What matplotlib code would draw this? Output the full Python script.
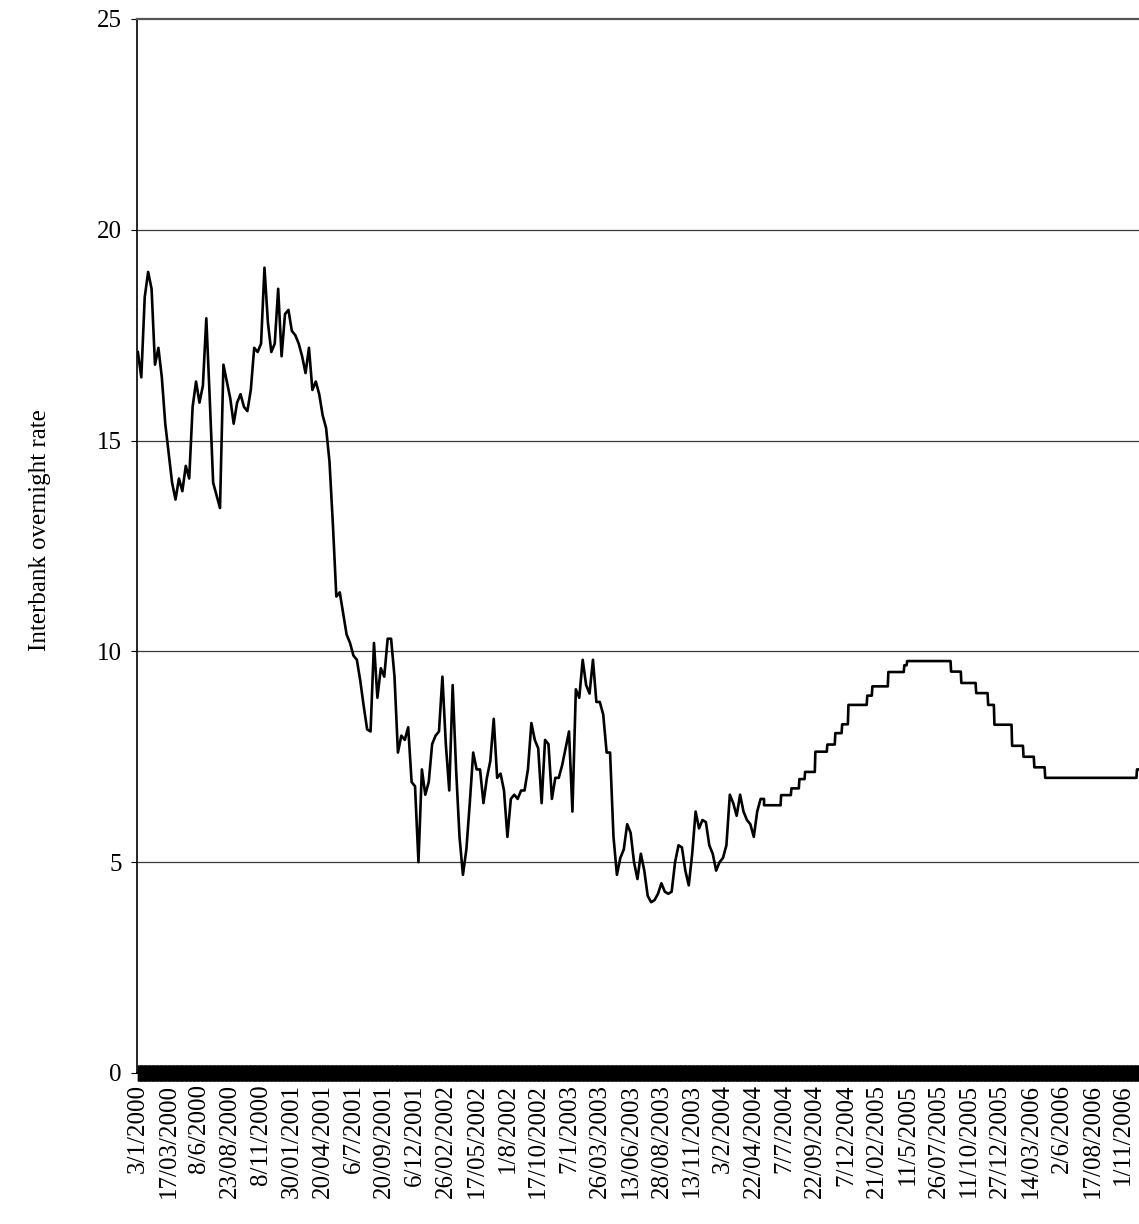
import numpy as np
import matplotlib
matplotlib.use("Agg")
from matplotlib import pyplot as plt

# interbank overnight rate, read every 6 trading days from 3/1/2000
rate_2000_2004 = [17.1, 16.5, 18.4, 19.0, 18.6, 16.8, 17.2, 16.5, 15.4, 14.7,
                  14.0, 13.6, 14.1, 13.8, 14.4, 14.1, 15.8, 16.4, 15.9, 16.3,
                  17.9, 16.0, 14.0, 13.7, 13.4, 16.8, 16.4, 16.0, 15.4, 15.9,
                  16.1, 15.8, 15.7, 16.2, 17.2, 17.1, 17.3, 19.1, 17.8, 17.1,
                  17.3, 18.6, 17.0, 18.0, 18.1, 17.6, 17.5, 17.3, 17.0, 16.6,
                  17.2, 16.2, 16.4, 16.1, 15.6, 15.3, 14.5, 13.0, 11.3, 11.4,
                  10.9, 10.4, 10.2, 9.9, 9.8, 9.3, 8.7, 8.15, 8.1, 10.2,
                  8.9, 9.6, 9.4, 10.3, 10.3, 9.4, 7.6, 8.0, 7.9, 8.2,
                  6.9, 6.8, 5.0, 7.2, 6.6, 6.9, 7.8, 8.0, 8.1, 9.4,
                  7.8, 6.7, 9.2, 7.2, 5.6, 4.7, 5.3, 6.4, 7.6, 7.2,
                  7.2, 6.4, 7.0, 7.4, 8.4, 7.0, 7.1, 6.7, 5.6, 6.5,
                  6.6, 6.5, 6.7, 6.7, 7.2, 8.3, 7.9, 7.7, 6.4, 7.9,
                  7.8, 6.5, 7.0, 7.0, 7.3, 7.7, 8.1, 6.2, 9.1, 8.9,
                  9.8, 9.2, 9.0, 9.8, 8.8, 8.8, 8.5, 7.6, 7.6, 5.6,
                  4.7, 5.1, 5.3, 5.9, 5.7, 5.0, 4.6, 5.2, 4.8, 4.2,
                  4.05, 4.1, 4.25, 4.5, 4.3, 4.25, 4.3, 5.0, 5.4, 5.35,
                  4.8, 4.45, 5.2, 6.2, 5.8, 6.0, 5.95, 5.4, 5.2, 4.8,
                  5.0, 5.1, 5.4, 6.6, 6.4, 6.1, 6.6, 6.2, 6.0, 5.9,
                  5.6, 6.2, 6.5, 6.5]
sample_step = 6

# later stair-like part: level and how many trading days it lasted
step_levels = [6.35, 6.59, 6.75, 6.97, 7.14, 7.62, 7.79, 8.06, 8.27, 8.73,
               8.95, 9.17, 9.51, 9.67, 9.77, 9.52, 9.25, 9.01, 8.73, 8.26,
               7.76, 7.5, 7.25, 7.0, 7.2]
step_days = [30, 18, 14, 10, 18, 21, 14, 12, 11, 33,
             9, 28, 28, 5, 77, 18, 26, 21, 11, 31,
             20, 19, 19, 161, 4]

tick_labels = ["3/1/2000", "17/03/2000", "8/6/2000", "23/08/2000", "8/11/2000",
               "30/01/2001", "20/04/2001", "6/7/2001", "20/09/2001", "6/12/2001",
               "26/02/2002", "17/05/2002", "1/8/2002", "17/10/2002", "7/1/2003",
               "26/03/2003", "13/06/2003", "28/08/2003", "13/11/2003", "3/2/2004",
               "22/04/2004", "7/7/2004", "22/09/2004", "7/12/2004", "21/02/2005",
               "11/5/2005", "26/07/2005", "11/10/2005", "27/12/2005", "14/03/2006",
               "2/6/2006", "17/08/2006", "1/11/2006"]
label_every = 54

x1 = np.arange(len(rate_2000_2004)) * sample_step
start = x1[-1]
y2 = np.repeat(step_levels, step_days)
x2 = start + np.arange(len(y2))
x = np.concatenate([x1, x2])
y = np.concatenate([rate_2000_2004, y2])
n_obs = int(x[-1]) + 1

fig = plt.figure(figsize=(11.39, 12.24), dpi=100)
ax = fig.add_axes([0.1203, 0.1234, 0.8797, 0.8611])

for level in [5, 10, 15, 20]:
    ax.axhline(level, color="#3a3a3a", lw=0.9, zorder=1)

ax.plot(x, y, color="black", lw=1.9, zorder=3)

ax.set_ylim(0, 25)
ax.set_xlim(-1.5, n_obs - 0.5)
ax.set_yticks([0, 5, 10, 15, 20, 25])
ax.set_yticklabels(["0", "5", "10", "15", "20", "25"],
                   fontfamily="Liberation Serif", fontsize=18)

ax.set_xticks(np.arange(len(tick_labels)) * label_every)
ax.set_xticklabels(tick_labels, rotation=90, va="top", ha="center",
                   fontfamily="Liberation Serif", fontsize=18)
ax.set_xticks(np.arange(n_obs), minor=True)
ax.tick_params(axis="x", which="both", direction="inout", length=12, width=1.0,
               color="black", pad=2)
ax.tick_params(axis="y", direction="out", length=4, width=0.8, pad=7)

ax.spines["right"].set_visible(False)
ax.spines["top"].set_color("#555555")
ax.spines["top"].set_linewidth(1.6)
ax.spines["left"].set_linewidth(1.2)
ax.spines["bottom"].set_linewidth(1.4)

fig.text(0.035, 0.567, "Interbank overnight rate", rotation=90,
         ha="center", va="center", fontfamily="Liberation Serif", fontsize=18)

fig.savefig("out.png", dpi=100)
